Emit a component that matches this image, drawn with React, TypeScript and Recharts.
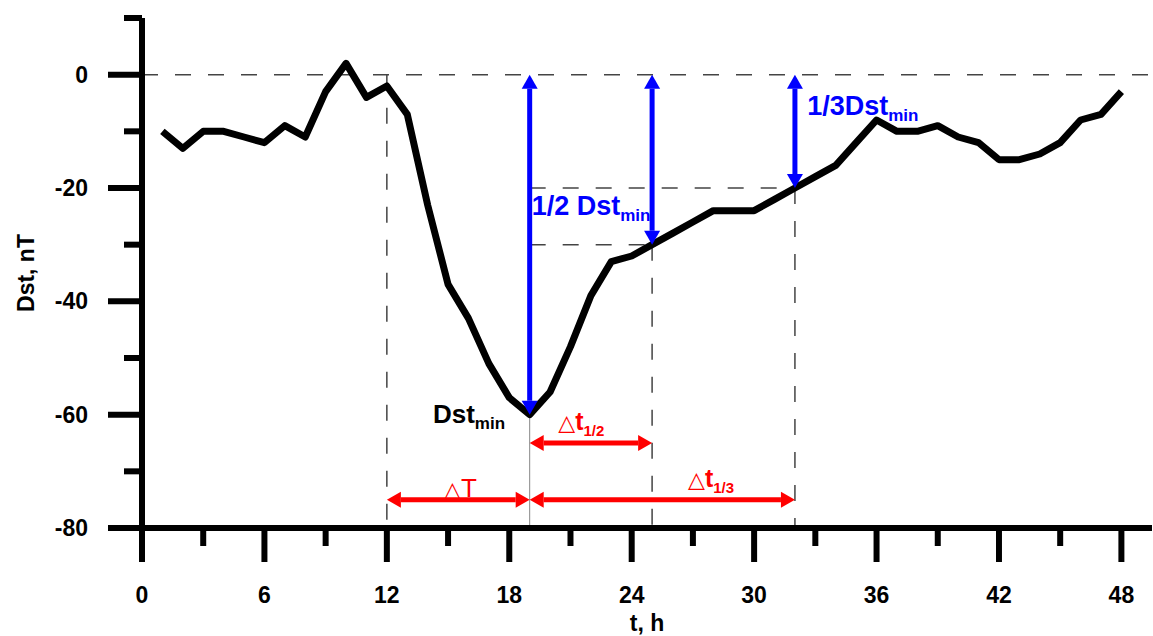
import React from 'react';
import { LineChart, Line, XAxis, YAxis, ReferenceLine, ReferenceDot } from 'recharts';

// hourly Dst values, t = 1..48 h
const hours = [
  1, 2, 3, 4, 5, 6, 7, 8, 9, 10, 11, 12, 13, 14, 15, 16, 17, 18, 19, 20, 21, 22, 23, 24,
  25, 26, 27, 28, 29, 30, 31, 32, 33, 34, 35, 36, 37, 38, 39, 40, 41, 42, 43, 44, 45, 46, 47, 48,
];
const dstValues = [
  -10, -13, -10, -10, -11, -12, -9, -11, -3, 2, -4, -2, -7, -23, -37, -43, -51, -57, -60, -56, -48, -39, -33, -32,
  -30, -28, -26, -24, -24, -24, -22, -20, -18, -16, -12, -8, -10, -10, -9, -11, -12, -15, -15, -14, -12, -8, -7, -3,
];

const xTicks = [0, 3, 6, 9, 12, 15, 18, 21, 24, 27, 30, 33, 36, 39, 42, 45, 48];
const yTicks = [-80, -70, -60, -50, -40, -30, -20, -10, 0, 10];

// storm phases
const tOnset = 12;
const tMin = 19;
const tHalf = 25;
const tThird = 32;
const dstMin = -60;
const dstHalf = -30;
const dstThird = -20;

const data = hours.map((t, i) => ({ t, dst: dstValues[i] }));

const FONT = '"Liberation Sans", Arial, sans-serif';
const BLUE = '#0000ff';
const RED = '#ff0000';

function XTick(props: any) {
  const { x, y, payload } = props;
  const major = payload.value % 6 === 0;
  return (
    <g>
      <line x1={x} y1={y} x2={x} y2={y + (major ? 34 : 18)} stroke="#000" strokeWidth={6} />
      {major && (
        <text x={x} y={y + 75} textAnchor="middle" fontFamily={FONT} fontWeight="bold" fontSize={23} fill="#000">
          {payload.value}
        </text>
      )}
    </g>
  );
}

function YTick(props: any) {
  const { x, y, payload } = props;
  const major = payload.value % 20 === 0;
  return (
    <g>
      <line x1={x - (major ? 34 : 18)} y1={y} x2={x} y2={y} stroke="#000" strokeWidth={6} />
      {major && (
        <text x={x - 54} y={y + 8} textAnchor="end" fontFamily={FONT} fontWeight="bold" fontSize={23} fill="#000">
          {payload.value}
        </text>
      )}
    </g>
  );
}

// double headed arrow drawn between the reference line end points
const arrow = (color: string) => (p: any) => {
  const { x1, y1, x2, y2 } = p;
  const head = 14;
  const half = 8;
  const len = Math.hypot(x2 - x1, y2 - y1) || 1;
  const ux = (x2 - x1) / len;
  const uy = (y2 - y1) / len;
  const nx = -uy;
  const ny = ux;
  const ax = x1 + ux * head;
  const ay = y1 + uy * head;
  const bx = x2 - ux * head;
  const by = y2 - uy * head;
  return (
    <g>
      <line x1={ax} y1={ay} x2={bx} y2={by} stroke={color} strokeWidth={5} />
      <polygon points={`${x1},${y1} ${ax + nx * half},${ay + ny * half} ${ax - nx * half},${ay - ny * half}`} fill={color} />
      <polygon points={`${x2},${y2} ${bx + nx * half},${by + ny * half} ${bx - nx * half},${by - ny * half}`} fill={color} />
    </g>
  );
};

type Part = { text: string; size: number; weight?: string; dy?: number; family?: string };

const label = (parts: Part[], color: string) => (p: any) => (
  <text x={p.cx} y={p.cy} fill={color} fontFamily={FONT}>
    {parts.map((part, i) => (
      <tspan
        key={i}
        fontSize={part.size}
        fontWeight={part.weight ?? 'bold'}
        dy={part.dy ?? 0}
        fontFamily={part.family ?? FONT}
      >
        {part.text}
      </tspan>
    ))}
  </text>
);

const dashed = { stroke: '#444', strokeWidth: 1.5, strokeDasharray: '16 17' };

export default function App() {
  return (
    <div style={{ position: 'absolute', left: 0, top: 0, background: '#fff' }}>
      <LineChart width={1153} height={636} data={data} margin={{ top: 18, right: 1, bottom: 8, left: 62 }}>
        <XAxis
          dataKey="t"
          type="number"
          domain={[0, 49.5]}
          ticks={xTicks}
          interval={0}
          height={100}
          tickSize={0}
          tickMargin={0}
          tickLine={false}
          axisLine={{ stroke: '#000', strokeWidth: 6 }}
          tick={<XTick />}
          label={{
            value: 't, h',
            content: (lp: any) => (
              <text
                x={lp.viewBox.x + lp.viewBox.width / 2}
                y={lp.viewBox.y + 103}
                textAnchor="middle"
                fontFamily={FONT}
                fontWeight="bold"
                fontSize={23}
                fill="#000"
              >
                t, h
              </text>
            ),
          }}
        />
        <YAxis
          type="number"
          domain={[-80, 10]}
          ticks={yTicks}
          interval={0}
          width={80}
          tickSize={0}
          tickMargin={0}
          tickLine={false}
          axisLine={{ stroke: '#000', strokeWidth: 6 }}
          tick={<YTick />}
          label={{
            value: 'Dst, nT',
            content: (lp: any) => {
              const cx = lp.viewBox.x - 36;
              const cy = lp.viewBox.y + lp.viewBox.height / 2;
              return (
                <text
                  x={cx}
                  y={cy}
                  transform={`rotate(-90 ${cx} ${cy})`}
                  textAnchor="middle"
                  dominantBaseline="central"
                  fontFamily={FONT}
                  fontWeight="bold"
                  fontSize={23}
                  fill="#000"
                >
                  Dst, nT
                </text>
              );
            },
          }}
        />

        <ReferenceLine y={0} {...dashed} />
        <ReferenceLine segment={[{ x: tOnset, y: 0 }, { x: tOnset, y: -80 }]} {...dashed} />
        <ReferenceLine segment={[{ x: tMin, y: dstThird }, { x: tThird, y: dstThird }]} {...dashed} />
        <ReferenceLine segment={[{ x: tMin, y: dstHalf }, { x: tHalf, y: dstHalf }]} {...dashed} />
        <ReferenceLine segment={[{ x: tHalf, y: dstHalf }, { x: tHalf, y: -80 }]} {...dashed} />
        <ReferenceLine segment={[{ x: tThird, y: dstThird }, { x: tThird, y: -80 }]} {...dashed} />
        <ReferenceLine segment={[{ x: tMin, y: dstMin }, { x: tMin, y: -80 }]} stroke="#888" strokeWidth={1} />

        <Line
          type="linear"
          dataKey="dst"
          stroke="#000"
          strokeWidth={7}
          strokeLinejoin="round"
          dot={false}
          activeDot={false}
          isAnimationActive={false}
        />

        <ReferenceLine segment={[{ x: tMin, y: 0 }, { x: tMin, y: dstMin }]} shape={arrow(BLUE)} />
        <ReferenceLine segment={[{ x: tHalf, y: 0 }, { x: tHalf, y: dstHalf }]} shape={arrow(BLUE)} />
        <ReferenceLine segment={[{ x: tThird, y: 0 }, { x: tThird, y: dstThird }]} shape={arrow(BLUE)} />

        <ReferenceLine segment={[{ x: tMin, y: -65 }, { x: tHalf, y: -65 }]} shape={arrow(RED)} />
        <ReferenceLine segment={[{ x: tOnset, y: -75 }, { x: tMin, y: -75 }]} shape={arrow(RED)} />
        <ReferenceLine segment={[{ x: tMin, y: -75 }, { x: tThird, y: -75 }]} shape={arrow(RED)} />

        <ReferenceDot
          x={19.1}
          y={-24.7}
          r={0}
          shape={label([{ text: '1/2 Dst', size: 27 }, { text: 'min', size: 17, dy: 6 }], BLUE)}
        />
        <ReferenceDot
          x={32.6}
          y={-7.1}
          r={0}
          shape={label([{ text: '1/3Dst', size: 27 }, { text: 'min', size: 17, dy: 6 }], BLUE)}
        />
        <ReferenceDot
          x={14.26}
          y={-61.5}
          r={0}
          shape={label([{ text: 'Dst', size: 26 }, { text: 'min', size: 17, dy: 6 }], '#000')}
        />
        <ReferenceDot
          x={20.4}
          y={-62.7}
          r={0}
          shape={label(
            [
              { text: '△', size: 22, weight: 'normal', family: '"DejaVu Sans", sans-serif' },
              { text: 't', size: 25 },
              { text: '1/2', size: 15, dy: 6 },
            ],
            RED,
          )}
        />
        <ReferenceDot
          x={14.8}
          y={-74.5}
          r={0}
          shape={label(
            [
              { text: '△', size: 22, weight: 'normal', family: '"DejaVu Sans", sans-serif' },
              { text: 'T', size: 26, weight: 'normal' },
            ],
            RED,
          )}
        />
        <ReferenceDot
          x={26.76}
          y={-72.8}
          r={0}
          shape={label(
            [
              { text: '△', size: 22, weight: 'normal', family: '"DejaVu Sans", sans-serif' },
              { text: 't', size: 25 },
              { text: '1/3', size: 15, dy: 6 },
            ],
            RED,
          )}
        />
      </LineChart>
    </div>
  );
}
